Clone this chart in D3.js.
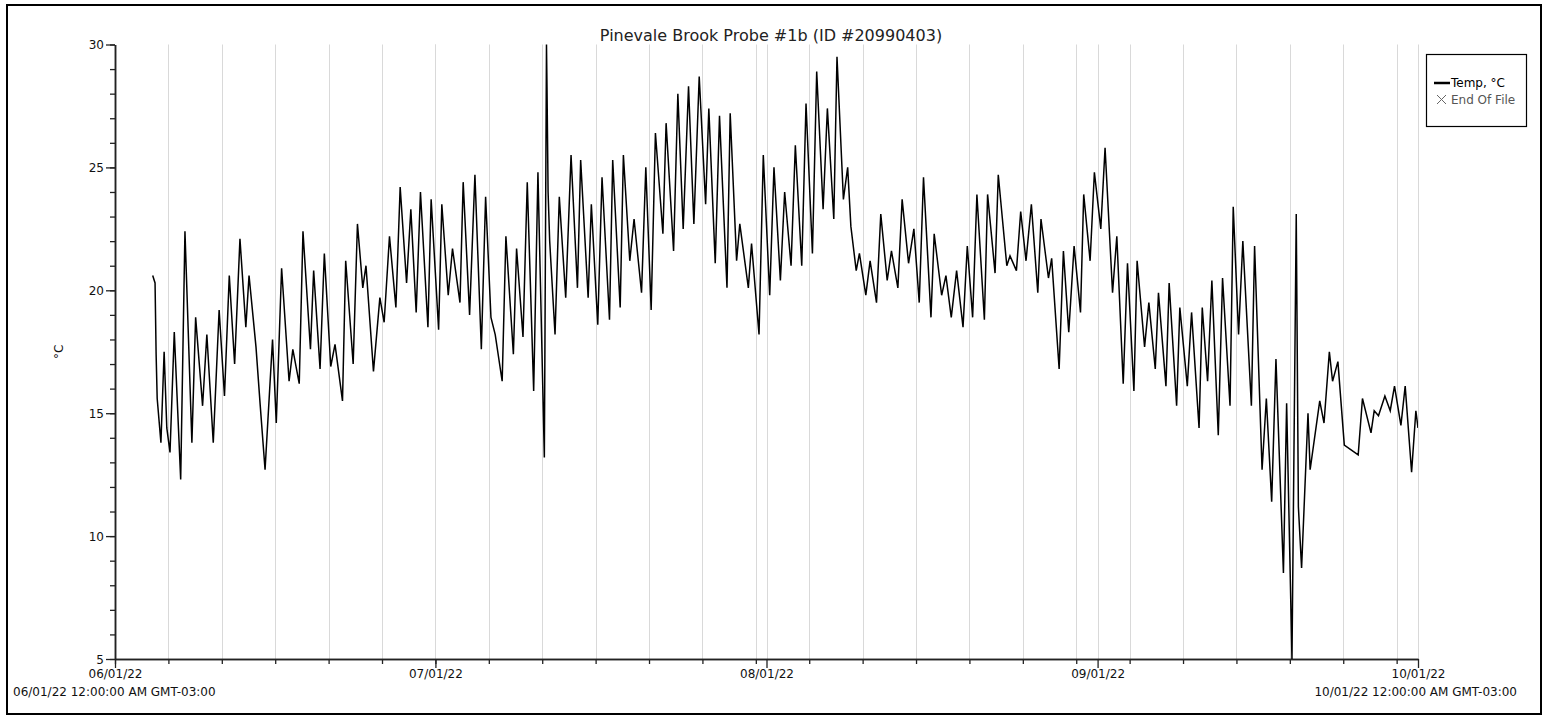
<!DOCTYPE html>
<html><head><meta charset="utf-8">
<script src="https://cdn.jsdelivr.net/npm/d3@7"></script>
<style>
html,body{margin:0;padding:0;background:#fff;}
svg{display:block;font-family:"DejaVu Sans",Verdana,sans-serif;}
</style></head><body>
<svg id="chart" width="1549" height="717"></svg>
<script>
// ---------- data ----------
const chartTitle = "Pinevale Brook Probe #1b (ID #20990403)";
const seriesName = "Temp, °C";
const markerName = "End Of File";
const yAxisLabel = "°C";
const startStamp = "06/01/22 12:00:00 AM GMT-03:00";
const endStamp = "10/01/22 12:00:00 AM GMT-03:00";
const monthTickLabels = ["06/01/22", "07/01/22", "08/01/22", "09/01/22", "10/01/22"];
const yTickLabels = [5, 10, 15, 20, 25, 30];
const minorTickStepDays = 5;

// readings: days elapsed since 06/01/22 00:00, and temperature in °C
const dayOffsets = [
  3.53, 3.75, 3.85, 3.95, 4.3, 4.6, 4.85, 5.15, 5.55, 6.15, 6.55, 7.2, 7.55, 8.2, 8.6, 9.2, 9.75, 10.25, 10.7,
  11.2, 11.7, 12.25, 12.55, 13.2, 13.6, 14.05, 14.75, 15.1, 15.6, 16.3, 16.65, 17.25, 17.6, 18.3, 18.6, 19.2,
  19.6, 20.2, 20.6, 21.3, 21.6, 22.3, 22.7, 23.2, 23.5, 24.2, 24.8, 25.2, 25.7, 26.3, 26.7, 27.3, 27.7, 28.2,
  28.6, 29.3, 29.6, 30.3, 30.6, 31.2, 31.6, 32.3, 32.6, 33.2, 33.7, 34.3, 34.7, 35.2, 35.6, 36.25, 36.6, 37.3,
  37.6, 38.2, 38.6, 39.2, 39.6, 40.2, 40.4, 40.45, 40.55, 40.7, 41.2, 41.6, 42.2, 42.7, 43.3, 43.6, 44.3, 44.6,
  45.2, 45.6, 46.3, 46.6, 47.3, 47.6, 48.2, 48.6, 49.3, 49.7, 50.2, 50.6, 51.3, 51.6, 52.3, 52.7, 53.2, 53.7,
  54.2, 54.7, 55.3, 55.6, 56.2, 56.6, 57.3, 57.6, 58.2, 58.5, 59.3, 59.6, 60.3, 60.7, 61.3, 61.7, 62.3, 62.7,
  63.3, 63.7, 64.3, 64.7, 65.3, 65.7, 66.3, 66.7, 67.3, 67.6, 68.2, 68.6, 68.9, 69.4, 69.7, 70.3, 70.7, 71.3,
  71.7, 72.3, 72.7, 73.3, 73.7, 74.3, 74.8, 75.3, 75.7, 76.4, 76.7, 77.4, 77.8, 78.3, 78.8, 79.4, 79.8, 80.3,
  80.7, 81.4, 81.7, 82.4, 82.7, 83.5, 83.8, 84.4, 84.8, 85.3, 85.8, 86.4, 86.7, 87.4, 87.7, 88.4, 88.8, 89.3,
  89.8, 90.4, 90.7, 91.3, 91.7, 92.3, 92.7, 93.4, 93.8, 94.4, 94.8, 95.4, 95.7, 96.4, 96.8, 97.4, 97.7, 98.4,
  98.7, 99.4, 99.7, 100.4, 100.8, 101.5, 101.8, 102.3, 102.7, 103.3, 103.7, 104.4, 104.7, 105.2, 105.6, 106.4,
  106.7, 107.4, 107.8, 108.3, 108.7, 109.4, 109.7, 110.2, 110.6, 110.8, 111.1, 111.7, 111.9, 112.8, 113.2,
  113.7, 114.0, 114.5, 115.1, 116.4, 116.8, 117.6, 117.9, 118.3, 118.9, 119.4, 119.8, 120.4, 120.8, 121.4,
  121.8, 122.0
];
const tempC = [
  20.6, 20.3, 17.4, 15.6, 13.8, 17.5, 14.4, 13.4, 18.3, 12.3, 22.4, 13.8, 18.9, 15.3, 18.2, 13.8, 19.2, 15.7, 20.6,
  17.0, 22.1, 18.5, 20.6, 17.7, 15.3, 12.7, 18.0, 14.6, 20.9, 16.3, 17.6, 16.2, 22.4, 17.6, 20.8, 16.8,
  21.5, 16.9, 17.8, 15.5, 21.2, 17.0, 22.7, 20.1, 21.0, 16.7, 19.7, 18.7, 22.2, 19.3, 24.2, 20.3, 23.3, 19.1,
  24.0, 18.5, 23.7, 18.4, 23.5, 19.8, 21.7, 19.5, 24.4, 19.0, 24.7, 17.6, 23.8, 18.9, 18.2, 16.3, 22.2, 17.4,
  21.7, 18.1, 24.4, 15.9, 24.8, 13.2, 30.0, 28.2, 24.0, 22.0, 18.2, 23.8, 19.7, 25.5, 20.1, 25.3, 19.7, 23.5,
  18.6, 24.6, 18.8, 25.3, 19.3, 25.5, 21.2, 22.9, 19.9, 25.0, 19.2, 26.4, 22.3, 26.8, 21.6, 28.0, 22.5, 28.3,
  22.7, 28.7, 23.5, 27.4, 21.1, 27.1, 20.1, 27.2, 21.2, 22.7, 20.1, 21.9, 18.2, 25.5, 19.8, 25.0, 20.4, 24.0,
  21.0, 25.9, 21.0, 27.6, 21.5, 28.9, 23.3, 27.4, 22.9, 29.5, 23.7, 25.0, 22.6, 20.8, 21.5, 19.8, 21.2, 19.5,
  23.1, 20.4, 21.6, 20.1, 23.7, 21.1, 22.5, 19.5, 24.6, 18.9, 22.3, 19.8, 20.6, 18.9, 20.8, 18.5, 21.8, 18.9,
  23.9, 18.8, 23.9, 20.7, 24.7, 21.0, 21.4, 20.8, 23.2, 21.2, 23.5, 19.9, 22.9, 20.5, 21.3, 16.8, 21.6, 18.3,
  21.8, 19.1, 23.9, 21.2, 24.8, 22.5, 25.8, 19.9, 22.2, 16.2, 21.1, 15.9, 21.2, 17.7, 19.5, 16.8, 19.9, 16.1,
  20.3, 15.3, 19.3, 16.1, 19.1, 14.4, 19.3, 16.3, 20.4, 14.1, 20.5, 15.3, 23.4, 18.2, 22.0, 15.3,
  21.8, 12.7, 15.6, 11.4, 17.2, 8.5, 15.4, 5.0, 23.1, 11.2, 8.7, 15.0, 12.7, 15.5, 14.6,
  17.5, 16.3, 17.1, 13.7, 13.3, 15.6, 14.2, 15.1, 14.9, 15.7, 15.1, 16.1, 14.5, 16.1, 12.6,
  15.1, 14.4
];

// ---------- layout ----------
const W = 1549, H = 717;
const plot = {left: 115, right: 1418, top: 44.5, bottom: 659};
const DAY = 86400000;
const parseTick = d3.utcParse("%m/%d/%y");
const fmtTick = d3.utcFormat("%m/%d/%y");
const monthDates = monthTickLabels.map(parseTick);
const t0 = monthDates[0], t1 = monthDates[monthDates.length - 1];
const totalDays = (t1 - t0) / DAY;

const data = dayOffsets.map((d, i) => ({t: new Date(+t0 + d * DAY), v: tempC[i]}));

const x = d3.scaleUtc().domain([t0, t1]).range([plot.left, plot.right]);
const y = d3.scaleLinear().domain([d3.min(yTickLabels), d3.max(yTickLabels)]).range([plot.bottom, plot.top]);

const minorDates = d3.range(0, totalDays + 0.001, minorTickStepDays).map(d => new Date(+t0 + d * DAY));
const yMinor = d3.range(d3.min(yTickLabels), d3.max(yTickLabels) + 1, 1);

const svg = d3.select("#chart");

// outer frame
svg.append("rect").attr("x", 7).attr("y", 5).attr("width", 1534).attr("height", 709)
  .attr("fill", "#fff").attr("stroke", "#000").attr("stroke-width", 2);

// gridlines
const gridDates = minorDates.concat(monthDates).filter(d => +d !== +t0);
svg.append("g").selectAll("line").data(gridDates).join("line")
  .attr("x1", d => Math.round(x(d)) + 0.5).attr("x2", d => Math.round(x(d)) + 0.5)
  .attr("y1", plot.top).attr("y2", plot.bottom)
  .attr("stroke", "#d9d9d9").attr("stroke-width", 1);

// y axis
const yAxisMinor = d3.axisLeft(y).tickValues(yMinor).tickSize(5).tickFormat("").tickSizeOuter(0);
const yAxisMajor = d3.axisLeft(y).tickValues(yTickLabels).tickSize(9).tickSizeOuter(0).tickPadding(2);
const gyMinor = svg.append("g").attr("transform", `translate(${plot.left},0)`).call(yAxisMinor);
const gy = svg.append("g").attr("transform", `translate(${plot.left},0)`).call(yAxisMajor);

// x axis
const xAxisMinor = d3.axisBottom(x).tickValues(minorDates).tickSize(5).tickFormat("").tickSizeOuter(0);
const xAxisMajor = d3.axisBottom(x).tickValues(monthDates).tickSize(9).tickFormat(fmtTick).tickSizeOuter(0).tickPadding(1);
const gxMinor = svg.append("g").attr("transform", `translate(0,${plot.bottom})`).call(xAxisMinor);
const gx = svg.append("g").attr("transform", `translate(0,${plot.bottom})`).call(xAxisMajor);

[gyMinor, gy, gxMinor, gx].forEach(g => {
  g.selectAll(".domain").attr("stroke", "#222").attr("stroke-width", 1.5);
  g.selectAll(".tick line").attr("stroke", "#222").attr("stroke-width", 1.3);
  g.selectAll("text").attr("fill", "#111").style("font-size", "12px").style("font-family", '"DejaVu Sans",Verdana,sans-serif');
});
gy.selectAll("text").attr("dy", "0.35em");

// full timestamp labels under first and last month ticks
svg.append("text").attr("x", 13).attr("y", 696).attr("font-size", 12).attr("fill", "#111")
  .text(startStamp);
svg.append("text").attr("x", 1517).attr("y", 696).attr("font-size", 12).attr("fill", "#111")
  .attr("text-anchor", "end").text(endStamp);

// y label
svg.append("text").attr("transform", `translate(63,${(plot.top + plot.bottom) / 2}) rotate(-90)`)
  .attr("text-anchor", "middle").attr("font-size", 12).attr("fill", "#111").text(yAxisLabel);

// title
svg.append("text").attr("x", 771).attr("y", 40.5).attr("text-anchor", "middle")
  .attr("font-size", 16).attr("fill", "#222").text(chartTitle);

// data line
svg.append("clipPath").attr("id", "clip").append("rect")
  .attr("x", plot.left).attr("y", plot.top - 1).attr("width", plot.right - plot.left).attr("height", plot.bottom - plot.top + 1);
const line = d3.line().x(d => x(d.t)).y(d => y(d.v)).curve(d3.curveLinear);
svg.append("path").datum(data).attr("clip-path", "url(#clip)")
  .attr("d", line).attr("fill", "none").attr("stroke", "#000").attr("stroke-width", 1.5)
  .attr("stroke-linejoin", "miter");

// legend
const lg = svg.append("g");
lg.append("rect").attr("x", 1426.5).attr("y", 54.5).attr("width", 100).attr("height", 72)
  .attr("fill", "#fff").attr("stroke", "#000").attr("stroke-width", 1.2);
lg.append("line").attr("x1", 1434).attr("x2", 1450).attr("y1", 83).attr("y2", 83)
  .attr("stroke", "#000").attr("stroke-width", 2.5);
lg.append("text").attr("x", 1451).attr("y", 87).attr("font-size", 12).attr("fill", "#000").text(seriesName);
lg.append("path").attr("d", "M1437,95 L1446,104 M1446,95 L1437,104")
  .attr("stroke", "#666").attr("stroke-width", 1);
lg.append("text").attr("x", 1451).attr("y", 104).attr("font-size", 12).attr("fill", "#555").text(markerName);
</script>
</body></html>
